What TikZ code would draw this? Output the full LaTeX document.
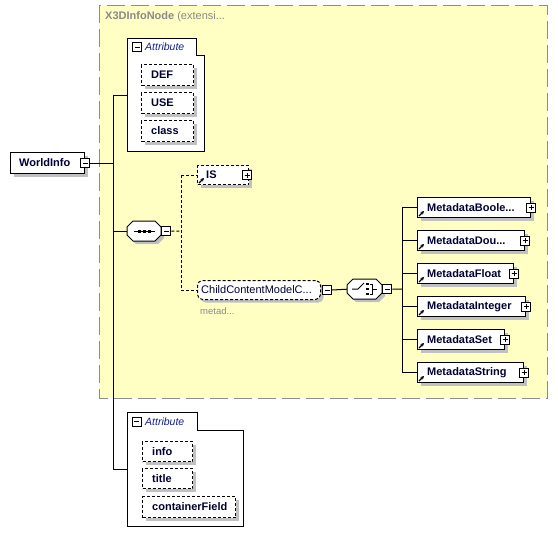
\documentclass[tikz,border=0pt]{standalone}
\usepackage{fontspec}
\setmainfont{Liberation Sans}
\usetikzlibrary{shadows,arrows.meta}
\definecolor{yellowbg}{HTML}{FFFFC4}
\definecolor{bordergray}{HTML}{8C8C8C}
\definecolor{shadowgray}{HTML}{C0C0C0}
\definecolor{namecol}{HTML}{000033}
\definecolor{attrcol}{HTML}{10208A}
\definecolor{titlegray}{HTML}{8A8A8A}
\tikzset{
  elem/.style={draw=black, fill=white, line width=1pt, inner sep=0pt, anchor=north west,
    drop shadow={shadow xshift=3pt, shadow yshift=-3pt, opacity=1, fill=shadowgray}},
  optelem/.style={elem, dash pattern=on 3pt off 2pt},
  lbl/.style={anchor=west, inner sep=0pt, text=namecol, font=\fontsize{11}{13}\selectfont\bfseries},
  rlbl/.style={anchor=west, inner sep=0pt, text=namecol, font=\fontsize{11}{13}\selectfont},
  attrlbl/.style={anchor=west, inner sep=0pt, text=attrcol, font=\fontsize{10.5}{12}\selectfont\itshape},
  pmbox/.style={draw=black, fill=white, line width=1pt, minimum size=9pt, inner sep=0pt},
  minusbox/.style={pmbox, path picture={\draw[line width=1pt] ([xshift=2pt]path picture bounding box.west) -- ([xshift=-2pt]path picture bounding box.east);}},
  plusbox/.style={pmbox, path picture={\draw[line width=1pt] ([xshift=2pt]path picture bounding box.west) -- ([xshift=-2pt]path picture bounding box.east);
     \draw[line width=1pt] ([yshift=2pt]path picture bounding box.south) -- ([yshift=-2pt]path picture bounding box.north);}},
  conn/.style={draw=black, line width=1pt},
  dconn/.style={conn, dash pattern=on 3pt off 2pt},
  refarrow/.style={line width=1.2pt, -{Stealth[length=3.5pt,width=3.5pt]}},
  group/.style={draw=black, fill=white, line width=1pt},
}
\newcommand{\mdbox}[4]{%
  \node[elem, minimum width={#3-417}, minimum height=20] (#1) at (417,#2) {};
  \node[lbl] at ([xshift=10pt]#1.west) {#4};
  \node[plusbox] (#1pm) at (#1.east) {};
  \draw[refarrow] ([shift={(2pt,2pt)}]#1.south west) -- ++(5pt,5pt);
}
\begin{document}
\begin{tikzpicture}[x=1pt,y=-1pt]
\useasboundingbox (0,0) rectangle (558,544);
% yellow extension area
\draw[fill=yellowbg, draw=bordergray, line width=1pt, dash pattern=on 18pt off 6pt] (99,5) rectangle (547,398);
\node[anchor=west, inner sep=0pt, text=titlegray, font=\fontsize{11}{13}\selectfont] (title) at (105,17) {\textbf{X3DInfoNode} (extensi...};

% first attribute group
\draw[group] (127,38) -- (196,38) -- (196,55) -- (204,55) -- (204,151) -- (127,151) -- cycle;
\node[minusbox] (ag1pm) at (137,47) {};
\node[attrlbl] (ag1lbl) at (145,47) {Attribute};
\node[optelem, minimum width=52, minimum height=21] (def) at (141,64) {};
\node[lbl] at ([xshift=10pt]def.west) {DEF};
\node[optelem, minimum width=52, minimum height=21] (use) at (141,92) {};
\node[lbl] at ([xshift=10pt]use.west) {USE};
\node[optelem, minimum width=52, minimum height=21] (cls) at (141,120) {};
\node[lbl] at ([xshift=10pt]cls.west) {class};
\coordinate (ag1) at (127,95);

% WorldInfo
\node[elem, minimum width=74, minimum height=21] (wi) at (10,152) {};
\node[lbl] at ([xshift=9pt]wi.west) {WorldInfo};
\node[minusbox] (wipm) at (wi.east) {};

% trunk
\coordinate (tTop) at (113,95);
\coordinate (tBot) at (113,469);
\draw[conn] (tTop) -- (tBot);
\draw[conn] (tTop) -- (ag1);
\draw[conn] (wipm.east) -- (wipm.east -| tTop);

% sequence compositor
\fill[shadowgray] (136,224) -- (158,224) -- (164,230) -- (164,238) -- (158,244) -- (136,244) -- (130,238) -- (130,230) -- cycle;
\draw[group] (133,221) -- (155,221) -- (161,227) -- (161,235) -- (155,241) -- (133,241) -- (127,235) -- (127,227) -- cycle;
\node[inner sep=0pt, minimum width=34, minimum height=20, anchor=north west] (seq) at (127,221) {};
\draw[line width=1pt] (134,231) -- (155,231);
\fill (137.5,229.5) rectangle ++(3,3);
\fill (142.5,229.5) rectangle ++(3,3);
\fill (147.5,229.5) rectangle ++(3,3);
\node[minusbox, anchor=west] (seqpm) at (seq.east) {};
\draw[conn] (tTop |- seq.west) -- (seq.west);

% IS
\node[optelem, minimum width=51, minimum height=19] (is) at (197,165) {};
\node[lbl] at ([xshift=9pt]is.west) {IS};
\node[plusbox] (ispm) at ([xshift=-2pt]is.east) {};
\draw[refarrow] ([shift={(2pt,2pt)}]is.south west) -- ++(5pt,5pt);

% ChildContentModel
\node[optelem, rounded corners=5pt, minimum width=123, minimum height=19] (ccm) at (197,280) {};
\node[rlbl] at ([xshift=4pt]ccm.west) {ChildContentModelC...};
\node[minusbox, anchor=west] (ccmpm) at ([xshift=1pt]ccm.east) {};
\node[anchor=west, inner sep=0pt, text=titlegray, font=\fontsize{9.5}{11}\selectfont] (metad) at (200,311) {metad...};

% sequence connectors
\coordinate (sj) at (181,231);
\draw[dconn] (seqpm.east) -- (sj);
\draw[dconn] (sj |- is.west) -- (sj |- ccm.west);
\draw[dconn] (sj |- is.west) -- (is.west);
\draw[dconn] (sj |- ccm.west) -- (ccm.west);

% choice compositor
\fill[shadowgray] (356,282) -- (379,282) -- (385,288) -- (385,296) -- (379,302) -- (356,302) -- (350,296) -- (350,288) -- cycle;
\draw[group] (353,279) -- (376,279) -- (382,285) -- (382,293) -- (376,299) -- (353,299) -- (347,293) -- (347,285) -- cycle;
\node[inner sep=0pt, minimum width=35, minimum height=20, anchor=north west] (ch) at (347,279) {};
\draw[line width=1pt] (352,289) -- (358,289) -- (364,283);
\fill (366,282.5) rectangle ++(2.5,2.5);
\fill (366,287.5) rectangle ++(2.5,2.5);
\fill (366,292.5) rectangle ++(2.5,2.5);
\draw[line width=1pt] (369.5,284) -- (372,284) -- (372,294) -- (369.5,294);
\draw[line width=1pt] (372,289) -- (377,289);
\node[minusbox, anchor=west] (chpm) at (ch.east) {};
\draw[conn] (ccmpm.east) -- (ch.west);

% metadata elements
\mdbox{mb1}{197}{530}{MetadataBoole...}
\mdbox{mb2}{230}{524}{MetadataDou...}
\mdbox{mb3}{263}{513}{MetadataFloat}
\mdbox{mb4}{296}{525}{MetadataInteger}
\mdbox{mb5}{329}{504}{MetadataSet}
\mdbox{mb6}{362}{523}{MetadataString}

\coordinate (cj) at (402,289);
\draw[conn] (chpm.east) -- (cj);
\draw[conn] (cj |- mb1.west) -- (cj |- mb6.west);
\foreach \m in {mb1,mb2,mb3,mb4,mb5,mb6} {\draw[conn] (cj |- \m.west) -- (\m.west);}

% second attribute group
\draw[group] (127,412) -- (197,412) -- (197,430) -- (243,430) -- (243,526) -- (127,526) -- cycle;
\node[minusbox] (ag2pm) at (136.5,421.5) {};
\node[attrlbl] (ag2lbl) at (145,422) {Attribute};
\node[optelem, minimum width=50, minimum height=20] (info) at (142,441) {};
\node[lbl] at ([xshift=10pt]info.west) {info};
\node[optelem, minimum width=50, minimum height=20] (ttl) at (142,468) {};
\node[lbl] at ([xshift=10pt]ttl.west) {title};
\node[optelem, minimum width=93, minimum height=21] (cf) at (142,496) {};
\node[lbl] at ([xshift=10pt]cf.west) {containerField};
\coordinate (ag2) at (127,469);
\draw[conn] (tBot) -- (ag2);
\end{tikzpicture}
\end{document}
